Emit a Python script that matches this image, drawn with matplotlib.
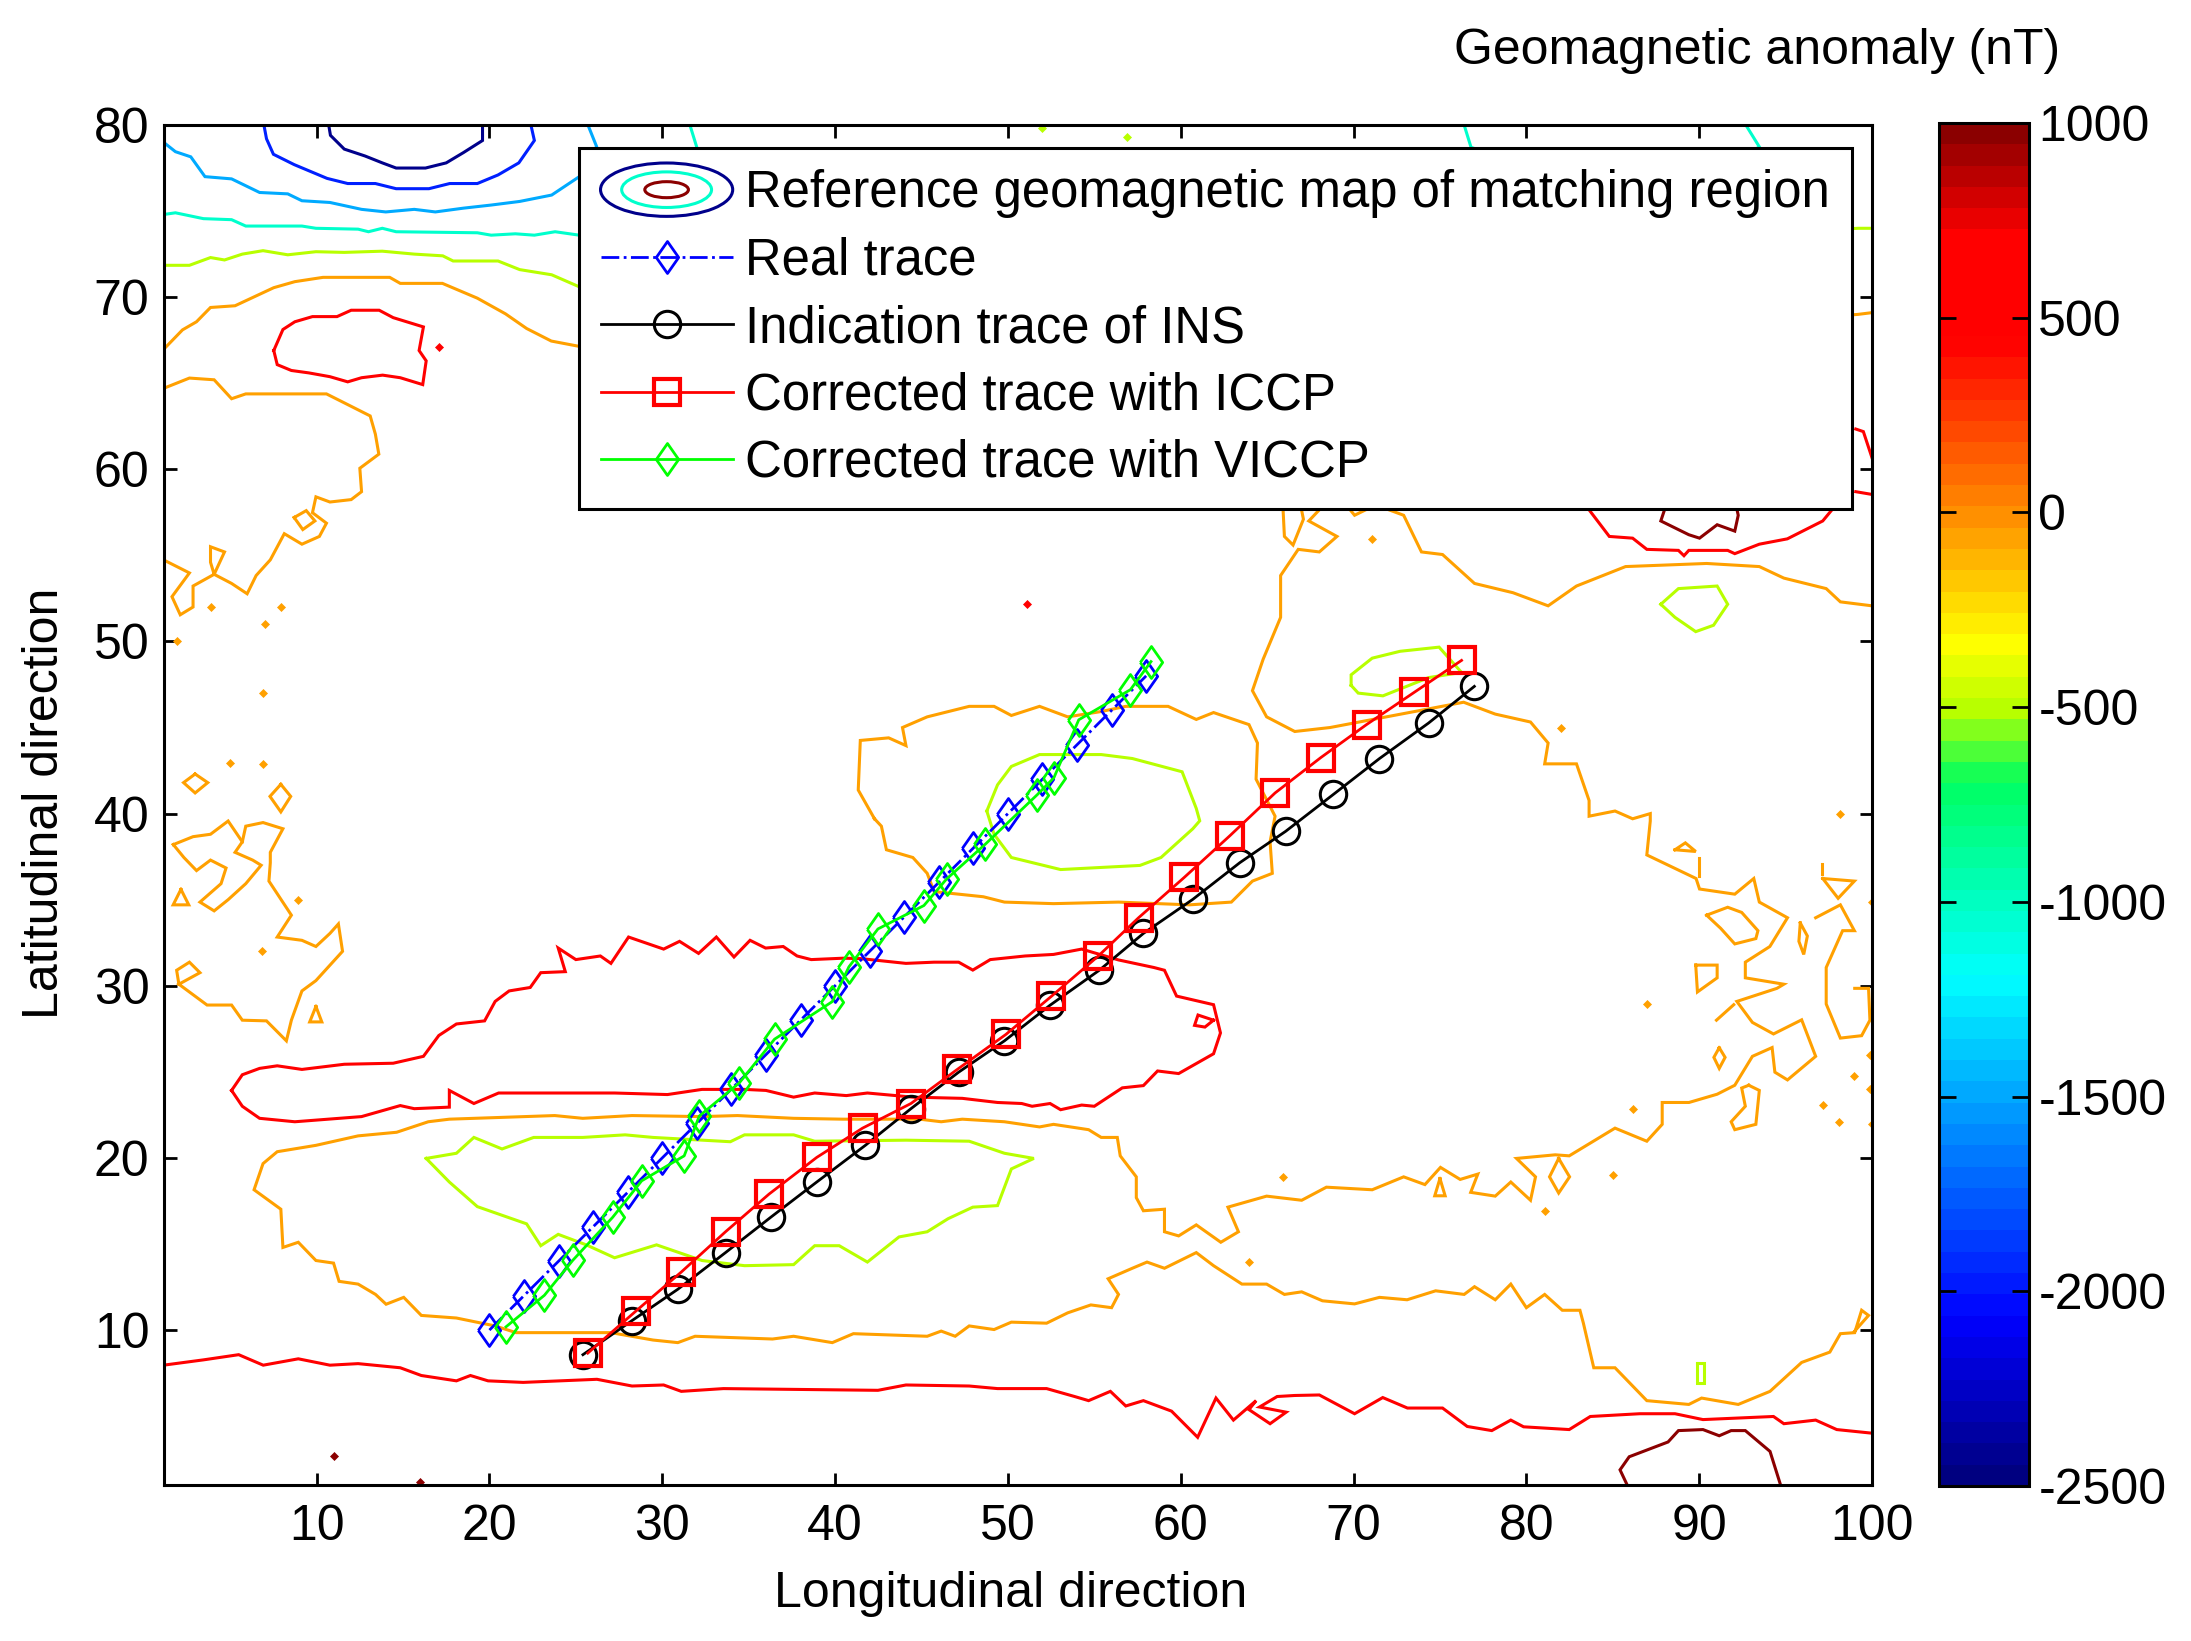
import numpy as np
import matplotlib
matplotlib.use('Agg')
import matplotlib.pyplot as plt
from matplotlib.cm import ScalarMappable
from matplotlib.colors import LinearSegmentedColormap, Normalize
from matplotlib.legend_handler import HandlerBase
from matplotlib.lines import Line2D
from matplotlib.patches import Ellipse

plt.rcParams['font.family'] = ['Liberation Sans', 'DejaVu Sans']
plt.rcParams['axes.unicode_minus'] = False

### contour colours
c_navy = '#00008b'
c_blue = '#0020ff'
c_sky = '#00aaff'
c_teal = '#00ffcc'
c_lime = '#b8ff00'
c_orange = '#ffa000'
c_red = '#ff0000'
c_dark = '#8b0000'

### contours (longitude, latitude)
navy_top = [(10.7, 80), (10.8, 79.4), (11.6, 78.6), (12.8, 78.2), (13.8, 77.8), (14.6, 77.5), (16.3, 77.5),
            (17.5, 77.8), (18.5, 78.4), (19.6, 79.1), (19.6, 80)]
blue_top = [(6.95, 80), (7.1, 79.2), (7.5, 78.3), (8.7, 77.7), (10.6, 76.9), (11.8, 76.6), (13.4, 76.6), (14.6, 76.3),
            (16.5, 76.3), (17.7, 76.6), (19.3, 76.6), (20.5, 77.1), (21.7, 77.8), (22.6, 79.1), (22.4, 80)]
sky_top = [(1.14, 79), (1.83, 78.45), (2.72, 78.15), (3.54, 77), (5.08, 76.87), (6.7, 76.08), (8.33, 76), (9.15, 75.6),
           (10.77, 75.5), (12.6, 75.1), (14.0, 74.95), (15.65, 75.1), (16.87, 74.95), (18.5, 75.17), (20.1, 75.35),
           (21.75, 75.56), (23.6, 75.93), (25.2, 77), (26.2, 78.75), (25.7, 80)]
teal_top = [(1.14, 74.8), (1.83, 74.9), (3.45, 74.56), (5.08, 74.5), (5.9, 74.13), (9.15, 74.13), (9.96, 74),
            (12.4, 73.95), (13, 73.8), (13.8, 74), (14.6, 73.8), (19.3, 73.74), (20.1, 73.6), (21.5, 73.68),
            (22.6, 73.6), (23.8, 73.8), (25.2, 73.6), (31.5, 76), (32, 78.7), (31.6, 80)]
teal_right = [(76.4, 80), (76.8, 78.7), (85, 76), (93.5, 78.7), (92.7, 80)]
lime_top = [(1.14, 71.85), (2.64, 71.85), (3.86, 72.3), (4.67, 72.16), (5.7, 72.5), (6.9, 72.7), (8.33, 72.46),
            (9.96, 72.64), (11.6, 72.6), (13.8, 72.67), (15.65, 72.5), (17.3, 72.4), (17.9, 72.1), (20.5, 72.1),
            (21.75, 71.6), (23.6, 71.3), (25.2, 70.6), (60, 72), (99.2, 74), (100, 74)]
orange_top = [(1.14, 66.96), (2.24, 68.1), (3.05, 68.57), (3.86, 69.4), (5.28, 69.5), (7.52, 70.55), (8.74, 70.9),
              (10.37, 71.15), (14.23, 71.15), (14.84, 70.8), (17.28, 70.8), (19.3, 69.94), (20.93, 69.03),
              (22.15, 68.18), (23.58, 67.45), (25.2, 67.14), (60, 66), (99.2, 69), (100, 69.1)]
red_nw = [(7.52, 66.9), (8.05, 68.12), (8.74, 68.57), (9.76, 68.87), (11.18, 68.87), (12, 69.24), (13.62, 69.24),
          (14.43, 68.81), (16.18, 68.27), (15.93, 66.9), (16.34, 66.3), (16.14, 64.92), (14.84, 65.32), (13.82, 65.47),
          (12.6, 65.32), (11.8, 65.08), (10.77, 65.38), (9.55, 65.6), (8.54, 65.74), (7.72, 66.08), (7.52, 66.9)]
orange_west = [(1.14, 64.7), (2.64, 65.3), (4.07, 65.2), (5.08, 64.1), (5.9, 64.38), (10.57, 64.38), (11.6, 63.86),
               (13.1, 63.1), (13.4, 62.04), (13.6, 60.88), (12.5, 60.06), (12.6, 58.7), (12, 58.24), (10.77, 58.1),
               (9.96, 58.4), (9.76, 57.48), (10.57, 56.87), (10.16, 56.1), (9.15, 55.65), (8.13, 56.26), (7.32, 54.74),
               (6.5, 53.83), (5.98, 52.77), (5.08, 53.37), (4.07, 53.9), (3.86, 54.6), (3.86, 55.5), (4.67, 55.2),
               (4.07, 53.9), (2.85, 53.22), (2.85, 52), (2.11, 51.55), (1.63, 52.6), (2.64, 53.98), (1.14, 54.74)]
orange_loop_nw = [(8.7, 57.2), (9.4, 57.6), (9.9, 57), (9.2, 56.5), (8.7, 57.2)]
orange_sw_a = [(1.71, 38.2), (2.85, 38.66), (3.86, 38.8), (4.88, 39.57), (5.7, 38.36), (5.28, 37.75), (6.3, 37.3),
               (6.79, 37), (5.9, 35.93), (4.88, 35), (4.07, 34.35), (3.25, 34.86), (4.47, 35.93), (4.76, 36.84),
               (3.86, 37.3), (3.05, 36.69), (2.32, 37.45), (1.71, 38.2)]
orange_sw_b = [(5.7, 38.36), (5.9, 39.27), (6.9, 39.48), (8.05, 39.12), (7.32, 37.75), (7.32, 37.14), (7.24, 36.08),
               (8.54, 34.1), (7.72, 32.83), (9.15, 32.64), (9.96, 32.28), (10.77, 33.04), (11.26, 33.59), (11.5, 32),
               (9.96, 30.3), (9.15, 29.7), (8.54, 28), (8.25, 26.8), (7.1, 27.96), (5.7, 28), (5.08, 28.88),
               (3.66, 28.88), (2.03, 30.09), (3.25, 30.76), (2.64, 31.37), (1.9, 30.9), (2.03, 30.09)]
red_mid = [(5.08, 23.92), (5.7, 24.83), (6.7, 25.2), (7.72, 25.35), (9.15, 25.14), (11.6, 25.44), (14.43, 25.5),
           (16.18, 25.9), (17.07, 27.11), (18.09, 27.78), (19.72, 27.96), (20.33, 29.09), (21.14, 29.7), (22.36, 29.9),
           (22.97, 30.76), (24.39, 30.82), (23.98, 32.19), (25, 31.52), (26.42, 31.73), (27.03, 31.3), (28.05, 32.83),
           (30.08, 32.13), (31, 32.58), (32.1, 31.88), (33.13, 32.83), (34.15, 31.67), (35.08, 32.64), (35.98, 32.19),
           (37, 32.28), (37.8, 31.73), (38.62, 31.52), (40.45, 31.6), (41.46, 31.58), (44.1, 31.3), (45.73, 31.37),
           (47.15, 31.37), (47.97, 30.91), (48.98, 31.52), (51, 31.73), (52.64, 31.82), (54.27, 32.13), (56.4, 31.5),
           (58.45, 31.06), (59.06, 30.9), (59.76, 29.4), (61.9, 28.9), (62.3, 27.26), (61.9, 26.05), (59.88, 24.9),
           (58.66, 25.05), (57.84, 24.2), (56.62, 24.07), (55, 23), (54.27, 23.07), (53.05, 22.8), (52.44, 23.16),
           (51.4, 23), (50.8, 23.16), (49.4, 23.22), (47.36, 23.46), (44.5, 23.53), (41.87, 23.77), (40.65, 23.62),
           (38.82, 23.77), (37.6, 23.53), (36, 23.92), (34.76, 23.98), (32.3, 23.98), (30.3, 23.68), (27.24, 23.77),
           (23.78, 23.77), (20.53, 23.77), (19.1, 23.16), (17.68, 23.92), (17.68, 22.95), (15.65, 22.86), (14.84, 23.04),
           (12.6, 22.4), (8.74, 22.1), (6.7, 22.3), (5.7, 23), (5.08, 23.92)]
red_mid_loop = [(61.9, 28), (61, 28.3), (60.8, 27.7), (61.4, 27.6), (61.9, 28)]
orange_cloud = [(42.28, 39.7), (41.34, 41.37), (41.46, 44.25), (43.1, 44.4), (44.1, 43.95), (43.9, 45), (45.33, 45.62),
                (47.76, 46.23), (49.2, 46.23), (50.2, 45.7), (51.83, 46.23), (53.46, 45.62), (55.4, 45.93),
                (56.82, 46.23), (59.27, 46.23), (60.9, 45.47), (61.9, 45.87), (63.95, 45.17), (64.44, 44.1), (64.36, 42),
                (65.46, 39.85), (65.17, 38.36), (65.3, 36.53), (64.15, 36.08), (62.93, 34.86), (60.5, 34.7), (56.4, 34.86),
                (52.64, 34.77), (49.8, 34.86), (48.58, 35.17), (45.73, 35.47), (45.33, 36.53), (44.5, 37.45),
                (42.97, 37.9), (42.68, 39.27), (42.28, 39.7)]
lime_oval = [(48.78, 40.15), (49.4, 41.67), (50.2, 42.74), (51.83, 43.43), (55.4, 43.43), (57.2, 43.2), (60.08, 42.43),
             (60.9, 40.3), (61.1, 39.58), (60.7, 39.12), (58.86, 37.45), (57.64, 36.99), (53.05, 36.75), (50.2, 37.45),
             (49.2, 38.8), (48.78, 40.15)]
lime_ne = [(87.78, 52.16), (88.8, 53.07), (91.04, 53.22), (91.65, 52.16), (90.83, 50.94), (89.8, 50.57), (88.6, 51.4),
           (87.78, 52.16)]
lime_trace = [(69.86, 47.45), (69.86, 48.06), (71.08, 49.03), (72.7, 49.43), (74.95, 49.67), (76.25, 48.2), (74.34, 47.9),
              (71.7, 46.84), (70.27, 47), (69.86, 47.45)]
lime_south = [(16.34, 19.97), (18.09, 20.27), (19.1, 21.19), (20.73, 20.52), (22.56, 21.19), (25.4, 21.19), (27.85, 21.34),
              (29.47, 21.19), (33.94, 20.94), (34.76, 21.34), (37.6, 21.34), (38.82, 20.97), (44.1, 21.03), (47.76, 20.97),
              (49.8, 20.27), (51.5, 19.97), (50.2, 19.36), (49.4, 17.23), (47.97, 17.14), (46.54, 16.47), (45.33, 15.71),
              (43.7, 15.41), (41.87, 13.95), (40.24, 14.9), (38.82, 14.9), (37.6, 13.8), (34.76, 13.74), (32.3, 14.04),
              (29.67, 14.95), (27.24, 14.2), (25.6, 14.95), (23.98, 15.56), (22.97, 14.9), (22.15, 16.17), (19.3, 17.17),
              (17.68, 18.6), (16.34, 19.97)]
lime_tiny = [(89.9, 8.1), (90.3, 8.1), (90.3, 6.9), (89.9, 6.9), (89.9, 8.1)]
red_south = [(1.14, 7.96), (3.46, 8.27), (5.49, 8.57), (6.91, 7.96), (8.94, 8.33), (10.77, 7.96), (12.4, 8.05), (14.84, 7.81),
             (16.06, 7.36), (18.09, 7.05), (18.9, 7.36), (19.92, 7.05), (21.95, 6.96), (26.22, 7.14), (28.25, 6.75),
             (30.08, 6.81), (31.1, 6.44), (33.54, 6.6), (42.48, 6.5), (44.1, 6.81), (47.76, 6.75), (49.4, 6.6), (52.24, 6.6),
             (53.86, 6.14), (54.67, 5.9), (55.93, 6.44), (56.82, 5.59), (57.84, 5.9), (59.47, 5.29), (60.98, 3.77),
             (62.04, 6.05), (63.05, 4.77), (64.36, 5.9), (63.95, 5.38), (65.17, 4.56), (66.1, 5.23), (64.56, 5.53),
             (65.58, 6.14), (66.6, 6.2), (68.02, 6.23), (70.06, 5.14), (71.69, 6.08), (73.12, 5.47), (75.15, 5.47),
             (76.58, 4.4), (78, 4.16), (79.1, 4.77), (79.84, 4.38), (82.48, 4.22), (83.7, 4.98), (86.56, 5.14), (88.6, 5.14),
             (90.22, 4.8), (94.3, 4.98), (94.9, 4.56), (96.74, 4.77), (97.96, 4.22), (100, 4.01)]
dark_south = [(85.82, 1.03), (85.42, 1.88), (85.95, 2.64), (88.2, 3.5), (88.8, 4.16), (90.22, 4.22), (91.16, 3.86),
              (91.85, 4.16), (92.67, 4.16), (94.1, 2.95), (94.7, 1.03)]
red_ne = [(83.18, 58.24), (84.8, 56.1), (86.15, 56), (86.97, 55.35), (88.8, 55.29), (89.12, 54.98), (89.4, 55.29),
          (91.65, 55.29), (92.06, 55.1), (93.48, 55.65), (95.1, 55.96), (97.15, 57), (98.17, 58.24)]
dark_ne = [(88.19, 58.24), (87.78, 57), (89.4, 56.2), (90.02, 56), (91.04, 56.78), (92.06, 56.41), (92.26, 57.33),
           (92.06, 58.24)]
red_edge_a = [(99.06, 62.34), (99.5, 62.19), (100, 60.67)]
red_edge_b = [(99.06, 58.7), (100, 58.54)]
orange_ne = [(69.45, 58.08), (70.06, 57.33), (71.28, 57.93), (72.9, 57.33), (73.93, 55.2), (75.15, 55.05), (77, 53.37),
             (79.23, 52.83), (81.26, 52.07), (82.9, 53.22), (85.74, 54.35), (90.43, 54.53), (93.48, 54.35), (94.9, 53.68),
             (97.35, 53.07), (98.17, 52.3), (100, 52.07)]
orange_ne_loop = [(65.9, 58.1), (66, 56.1), (66.5, 55.6), (67.1, 57.1), (66.9, 58.1)]
# the long one: down from the north east, along the southern band, out to the south east corner
orange_long = [(68.43, 58.08), (67.41, 57), (69.04, 56.1), (68.02, 55.2), (66.8, 55.35), (65.78, 53.83), (65.78, 51.4),
               (64.77, 48.97), (64.15, 47.14), (64.97, 45.62), (66.6, 44.77), (68.64, 45), (71.9, 45.62), (76.37, 46.47),
               (78.2, 45.78), (80.24, 45.32), (81.26, 44.1), (81.06, 42.89), (82.9, 42.89), (83.63, 40.76), (83.63, 39.85),
               (85.13, 40.15), (86.15, 39.7), (87.17, 40), (87.17, 39.57), (86.97, 37.6), (89.82, 36.23), (90.02, 35.62),
               (92.06, 35.32), (93.16, 36.23), (93.48, 34.86), (95.11, 33.95), (94.09, 32.28), (92.67, 31.37), (92.67, 30.46),
               (94.9, 30.09), (94.5, 29.85), (92.18, 29.09), (93.08, 27.87), (94.3, 27.2), (95.93, 28.02), (96.74, 25.9),
               (95.11, 24.53), (94.38, 24.98), (94.22, 26.41), (93.08, 25.9), (92.06, 24.22), (91.04, 23.7), (89.41, 23.22),
               (87.86, 23.22), (87.86, 21.95), (86.97, 20.97), (85.13, 21.73), (82.48, 20.12), (81.67, 20.18), (79.43, 19.97),
               (80.53, 18.9), (80.24, 17.54), (79.1, 18.6), (78.2, 17.78), (76.78, 18), (77.19, 19.06), (76.17, 18.75),
               (75.03, 19.45), (74.13, 18.45), (72.9, 18.9), (71.08, 18.15), (68.43, 18.3), (67, 17.54), (64.97, 17.78),
               (62.73, 17.14), (63.34, 15.71), (62.32, 15.1), (60.9, 16.11), (59.88, 15.47), (59.06, 15.71), (59.06, 17.02),
               (57.84, 16.93), (57.43, 17.69), (57.43, 18.9), (56.5, 20.12), (56.33, 21.19), (55.4, 21.19), (54.67, 21.64),
               (52.64, 21.95), (51.83, 21.8), (49.8, 22.1), (47.36, 22.25), (46.14, 22.1), (44.9, 22.25), (41.67, 22.25),
               (40.45, 22.25), (37.6, 22.3), (34.35, 22.46), (32.3, 22.4), (28.25, 22.46), (25.4, 22.3), (23.78, 22.46),
               (17.68, 22.25), (16.46, 22.1), (14.63, 21.49), (12.4, 21.28), (9.96, 20.73), (7.72, 20.36), (6.9, 19.67),
               (6.38, 18.15), (7.93, 17.02), (8.05, 14.8), (8.94, 15.1), (9.96, 14.04), (10.98, 13.89), (11.3, 12.83),
               (12.4, 12.67), (13.41, 12.07), (14.02, 11.5), (15.04, 11.9), (16.06, 10.85), (18.09, 10.7), (20.33, 10.24),
               (21.54, 9.85), (27.03, 9.85), (29.47, 9.42), (30.9, 9.27), (31.9, 9.64), (36.38, 9.48), (37.6, 9.64),
               (39.84, 9.27), (41.06, 9.79), (45.33, 9.64), (46.14, 9.94), (46.95, 9.64), (47.76, 10.24), (49.2, 10.03),
               (50.2, 10.46), (52.24, 10.4), (53.46, 11), (54.8, 11.46), (56, 11.3), (56.4, 12.07), (55.8, 12.98),
               (57.2, 13.59), (58.05, 13.95), (59.06, 13.59), (60.9, 14.5), (61.9, 13.74), (63.54, 12.67), (64.97, 12.67),
               (66, 12.07), (67, 12.22), (68.2, 11.7), (70.06, 11.52), (71.5, 11.9), (73.1, 11.76), (74.75, 12.28),
               (76.4, 12.07), (77, 12.52), (78.2, 11.76), (79.1, 12.67), (80, 11.3), (81.06, 12.07), (82.08, 11.15),
               (83.1, 11.15), (83.3, 10.4), (83.9, 7.81), (85.13, 7.81), (86.97, 5.9), (89.4, 5.68), (90.14, 6.05),
               (92.26, 5.68), (94.1, 6.44), (95.93, 8.12), (97.56, 8.72), (98.17, 9.79), (99, 9.85), (99.4, 11.15),
               (99.8, 10.85), (99, 9.94)]
orange_e1 = [(90.43, 34.1), (91.65, 34.56), (92.46, 34.26), (93.4, 33.2), (93.28, 32.74), (92.06, 32.43), (91.24, 33.34),
             (90.43, 34.1)]
orange_e2 = [(89.8, 31.2), (91.04, 31.2), (91.04, 30.46), (89.9, 29.64), (89.8, 31.2)]
orange_e3 = [(96.74, 33.95), (98.17, 34.7), (98.98, 33.2), (98.3, 33.2), (97.35, 31.06), (97.35, 28.94), (98.17, 26.96),
             (99.4, 27.1), (99.88, 28), (99.8, 29.85), (99, 29.85)]
orange_e4 = [(97.15, 36.23), (98.98, 36.08), (98.04, 35.08), (97.15, 36.23)]
orange_e5 = [(95.85, 33.65), (96.26, 32.89), (96.05, 31.82), (95.77, 32.58), (95.85, 33.65)]
orange_e6 = [(88.6, 37.9), (89.2, 38.3), (89.8, 37.8), (88.6, 37.9)]
orange_e7 = [(90, 37.4), (90, 36.4)]
orange_e8 = [(97.1, 37.1), (97.1, 36.5)]
orange_e9 = [(91, 28), (92, 28.9)]
orange_e10 = [(92.87, 24.22), (93.48, 23.92), (93.28, 21.95), (92.06, 21.64), (91.85, 22.1), (92.67, 23), (92.46, 24.06),
              (92.87, 24.22)]
orange_e11 = [(81.87, 19.97), (82.5, 18.9), (81.87, 17.96), (81.34, 18.9), (81.87, 19.97)]
orange_e12 = [(91.16, 26.4), (91.5, 25.84), (91.16, 25.2), (90.85, 25.84), (91.16, 26.4)]
orange_sw_c = [(2.97, 42.3), (3.7, 41.8), (2.97, 41.2), (2.3, 41.8), (2.97, 42.3)]
orange_sw_d = [(7.93, 41.7), (8.5, 41), (7.93, 40.1), (7.3, 41), (7.93, 41.7)]
orange_sw_e = [(2.15, 35.6), (2.6, 34.7), (1.7, 34.7), (2.15, 35.6)]
orange_sw_f = [(9.96, 28.8), (10.3, 27.9), (9.6, 27.9), (9.96, 28.8)]
orange_s_a = [(75, 18.8), (75.3, 17.8), (74.7, 17.8), (75, 18.8)]

top_lime_x = [52, 56.9]
top_lime_y = [79.8, 79.3]
red_spot_x = [17.07, 51.1]
red_spot_y = [67.1, 52.16]
dark_spot_x = [11, 16]
dark_spot_y = [2.7, 1.2]
orange_spot_x = [1.9, 3.86, 7.93, 7, 6.9, 4.96, 6.9, 8.94, 6.83, 86.97, 86.15, 98.98, 97.15, 98.09, 99.9, 99.9, 100, 100,
                 85, 81.06, 65.9, 63.95, 71.08, 82, 98.17]
orange_spot_y = [50, 52, 52, 51.03, 47, 42.95, 42.9, 35, 32, 28.94, 22.86, 24.77, 23.07, 22.1, 26, 24, 34.86, 21.95, 19,
                 16.93, 18.9, 13.95, 55.96, 45, 40]

### traces
real_lon = [20, 22, 24, 26, 28, 30, 32, 34, 36, 38, 40, 42, 44, 46, 48, 50, 52, 54, 56, 58]
real_lat = [10, 12, 14, 16, 18, 20, 22, 24, 26, 28, 30, 32, 34, 36, 38, 40, 42, 44, 46, 48]
ins_lon = [25.41, 28.25, 30.9, 33.66, 36.3, 38.94, 41.75, 44.39, 47.15, 49.8, 52.44, 55.3, 57.84, 60.7, 63.42, 66.07,
           68.84, 71.49, 74.34, 76.99]
ins_lat = [8.57, 10.55, 12.37, 14.5, 16.57, 18.6, 20.73, 22.86, 24.98, 26.8, 28.87, 30.91, 33.04, 35.02, 37.15, 38.97,
           41.12, 43.19, 45.26, 47.39]
iccp_lon = [25.69, 28.46, 31.1, 33.66, 36.18, 38.94, 41.59, 44.39, 47.07, 49.88, 52.52, 55.2, 57.56, 60.2, 62.85, 65.46,
            68.1, 70.75, 73.52, 76.25]
iccp_lat = [8.66, 11.09, 13.37, 15.71, 17.9, 20.03, 21.73, 23.16, 25.14, 27.17, 29.39, 31.7, 33.95, 36.29, 38.72, 41.2,
            43.25, 45.17, 47.05, 48.9]
viccp_lon = [20.96, 23.18, 24.82, 27.13, 28.81, 31.27, 32.14, 34.45, 36.5, 39.84, 40.8, 42.48, 45.14, 46.45, 48.7, 51.7,
             52.66, 54.1, 57.09, 58.28]
viccp_lat = [10.19, 12.02, 14.05, 16.55, 18.67, 20.12, 22.43, 24.35, 26.9, 29.08, 31.1, 33.3, 34.66, 36.2, 38.23, 41.1,
             42.08, 45.45, 47.2, 48.83]

legend_labels = ['Reference geomagnetic map of matching region', 'Real trace', 'Indication trace of INS',
                 'Corrected trace with ICCP', 'Corrected trace with VICCP']
x_ticks = [10, 20, 30, 40, 50, 60, 70, 80, 90, 100]
y_ticks = [10, 20, 30, 40, 50, 60, 70, 80]
cbar_ticks = [-2500, -2000, -1500, -1000, -500, 0, 500, 1000]
cmap_values = [-2500, -2090, -1200, -690, -500, -330, 0, 250, 453, 727, 1000]
cmap_colors = ['#000080', '#0000ff', '#00ffff', '#00ff60', '#b8ff00', '#ffff00', '#ff9000', '#ff4000', '#ff0000',
               '#ff0000', '#8b0000']

contours = [(navy_top, c_navy), (blue_top, c_blue), (sky_top, c_sky), (teal_top, c_teal), (teal_right, c_teal),
            (lime_top, c_lime), (orange_top, c_orange), (red_nw, c_red), (orange_west, c_orange),
            (orange_loop_nw, c_orange), (orange_sw_a, c_orange), (orange_sw_b, c_orange), (red_mid, c_red),
            (red_mid_loop, c_red), (orange_cloud, c_orange), (lime_oval, c_lime), (lime_ne, c_lime),
            (lime_trace, c_lime), (lime_south, c_lime), (lime_tiny, c_lime), (red_south, c_red), (dark_south, c_dark),
            (red_ne, c_red), (dark_ne, c_dark), (red_edge_a, c_red), (red_edge_b, c_red), (orange_ne, c_orange),
            (orange_ne_loop, c_orange), (orange_long, c_orange), (orange_e1, c_orange), (orange_e2, c_orange),
            (orange_e3, c_orange), (orange_e4, c_orange), (orange_e5, c_orange), (orange_e6, c_orange),
            (orange_e7, c_orange), (orange_e8, c_orange), (orange_e9, c_orange), (orange_e10, c_orange),
            (orange_e11, c_orange), (orange_e12, c_orange), (orange_sw_c, c_orange), (orange_sw_d, c_orange),
            (orange_sw_e, c_orange), (orange_sw_f, c_orange), (orange_s_a, c_orange)]

FS = 36
LEG_FS = 36.6
LW = 2.2
# tall diamond, MATLAB figure was stretched
tall_diamond = [(-0.7, 0), (0, 1), (0.7, 0), (0, -1), (-0.7, 0)]


class ContourHandle(HandlerBase):
    def create_artists(self, legend, orig, xd, yd, w, h, fontsize, trans):
        cx, cy = w / 2 - xd, h / 2 - yd
        rings = [(w, 1.5 * h, c_navy), (0.68 * w, 1.0 * h, c_teal), (0.33 * w, 0.45 * h, c_dark)]
        return [Ellipse((cx, cy), a, b, fill=False, edgecolor=c, linewidth=LW, transform=trans) for a, b, c in rings]


fig = plt.figure(figsize=(21.91, 16.41), dpi=100)
ax = fig.add_axes([163.5 / 2191, 156 / 1641, 1708.5 / 2191, 1360 / 1641])
cax = fig.add_axes([1939 / 2191, 155 / 1641, 89.6 / 2191, 1363 / 1641])

for pts, col in contours:
    pts = np.array(pts)
    ax.plot(pts[:, 0], pts[:, 1], color=col, lw=LW, solid_joinstyle='miter')

for xs, ys, col in [(top_lime_x, top_lime_y, c_lime), (red_spot_x, red_spot_y, c_red),
                    (dark_spot_x, dark_spot_y, c_dark), (orange_spot_x, orange_spot_y, c_orange)]:
    ax.plot(xs, ys, ls='', marker='D', ms=4, mfc=col, mec=col, mew=0.5)

h_real, = ax.plot(real_lon, real_lat, color='#0000ff', ls='-.', lw=2, marker=tall_diamond, ms=23, mfc='none', mew=2)
h_ins, = ax.plot(ins_lon, ins_lat, color='black', ls='-', lw=2, marker='o', ms=19, mfc='none', mew=2.2)
h_iccp, = ax.plot(iccp_lon, iccp_lat, color='#ff0000', ls='-', lw=2, marker='s', ms=19, mfc='none', mew=3)
h_viccp, = ax.plot(viccp_lon, viccp_lat, color='#00ff00', ls='-', lw=2, marker=tall_diamond, ms=23, mfc='none', mew=2)
h_map = Line2D([], [], color=c_navy)

ax.set_xlim(1.14, 100)
ax.set_ylim(1, 80)
ax.set_xticks(x_ticks)
ax.set_yticks(y_ticks)
ax.tick_params(axis='both', direction='in', length=9, width=2, top=True, right=True, labelsize=FS)
ax.tick_params(axis='x', pad=14)
ax.tick_params(axis='y', pad=10)
for sp in ax.spines.values():
    sp.set_linewidth(2.2)
ax.set_xlabel('Longitudinal direction', fontsize=FS, va='center')
ax.xaxis.set_label_coords(0.496, -0.08)
ax.set_ylabel('Latitudinal direction', fontsize=FS, va='center')
ax.yaxis.set_label_coords(-0.0694, 0.5015)

leg = ax.legend([h_map, h_real, h_ins, h_iccp, h_viccp], legend_labels, loc='upper left',
                bbox_to_anchor=(0.2433, 0.983), borderaxespad=0, fontsize=LEG_FS, fancybox=False, framealpha=1,
                edgecolor='black', handlelength=2.6, handletextpad=0.25, labelspacing=0.36, borderpad=0.42,
                handler_map={h_map: ContourHandle()})
leg.get_frame().set_linewidth(2.2)

cmap = LinearSegmentedColormap.from_list(
    'anomaly', [((v + 2500) / 3500, c) for v, c in zip(cmap_values, cmap_colors)], N=64)
cb = fig.colorbar(ScalarMappable(Normalize(-2500, 1000), cmap), cax=cax, ticks=cbar_ticks)
cb.outline.set_linewidth(2.2)
cax.tick_params(axis='y', direction='in', length=12, width=2, left=True, right=True, labelsize=FS, pad=7)

fig.text(2060 / 2191, 1 - 51 / 1641, 'Geomagnetic anomaly (nT)', fontsize=FS, ha='right', va='center')

plt.savefig('out.png', dpi=100)
